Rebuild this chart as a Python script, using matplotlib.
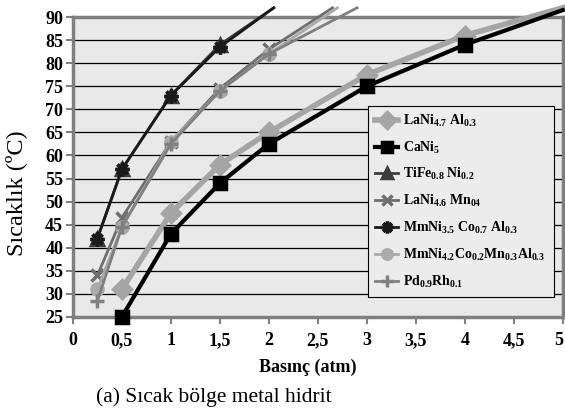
import matplotlib
matplotlib.use("Agg")
import matplotlib.pyplot as plt

plt.rcParams['font.family'] = ['Liberation Serif', 'DejaVu Serif']
plt.rcParams['mathtext.fontset'] = 'custom'
plt.rcParams['mathtext.rm'] = 'Liberation Serif:bold'
plt.rcParams['mathtext.default'] = 'rm'

# series (pressure atm, temperature C)
lani47_x = [0.5, 1, 1.5, 2, 3, 4, 5]
lani47_y = [31, 47.5, 58, 65, 77.5, 86, 92]
cani5_x = [0.5, 1, 1.5, 2, 3, 4, 5]
cani5_y = [25, 43, 54, 62.5, 75, 84, 91.5]
tife_x = [0.25, 0.5, 1, 1.5, 2.05]
tife_y = [42, 57, 73, 84, 92]
lani46_x = [0.25, 0.5, 1, 1.5, 2, 2.65]
lani46_y = [34, 46.5, 63, 74.5, 83, 92]
mmni35_x = [0.25, 0.5, 1, 1.5, 2.05]
mmni35_y = [42, 57, 73, 83.5, 92]
mmni42_x = [0.25, 0.5, 1, 1.5, 2, 2.7]
mmni42_y = [31, 44.5, 63, 74, 82, 92]
pd_x = [0.25, 0.5, 1, 1.5, 2, 2.9]
pd_y = [28.5, 44.5, 62.5, 74, 82, 92]

series = [
    ("LaNi$_{4.7}$ Al$_{0.3}$", lani47_x, lani47_y, '#a5a5a5', 'D', 4, 9),
    ("CaNi$_{5}$", cani5_x, cani5_y, '#000000', 's', 3, 9),
    ("TiFe$_{0.8}$ Ni$_{0.2}$", tife_x, tife_y, '#3c3c3c', '^', 2, 9),
    ("LaNi$_{4.6}$ Mn$_{04}$", lani46_x, lani46_y, '#6e6e6e', 'x', 2, 9),
    ("MmNi$_{3.5}$ Co$_{0.7}$ Al$_{0.3}$", mmni35_x, mmni35_y, '#1a1a1a', (8, 2, 0), 2, 10),
    ("MmNi$_{4.2}$Co$_{0.2}$Mn$_{0.3}$Al$_{0.3}$", mmni42_x, mmni42_y, '#aaaaaa', 'o', 2, 8),
    ("Pd$_{0.9}$Rh$_{0.1}$", pd_x, pd_y, '#808080', '+', 2, 10),
]

fig = plt.figure(figsize=(5.65, 4.16), dpi=100)
ax = fig.add_axes([0.129, 0.238, 0.867, 0.721])
ax.set_facecolor('#e9e9e9')

for label, xs, ys, col, mk, lw, ms in series:
    inside = [i for i, v in enumerate(ys) if v <= 90]
    ax.plot(xs, ys, color=col, lw=lw, marker=mk, ms=ms, mew=2.5,
            markevery=inside, label=label, clip_on=False, zorder=3)

ax.set_xlim(0, 5)
ax.set_ylim(25, 90)
ax.set_xticks([0, 0.5, 1, 1.5, 2, 2.5, 3, 3.5, 4, 4.5, 5])
ax.set_xticklabels(['0', '0,5', '1', '1,5', '2', '2,5', '3', '3,5', '4', '4,5', '5'])
ax.set_yticks(range(25, 91, 5))
ax.yaxis.grid(True, color='black', lw=0.9)
ax.set_axisbelow(True)
for s in ax.spines.values():
    s.set_color('#7f7f7f')
    s.set_linewidth(2.5)
ax.tick_params(direction='out', length=5, width=1.5, color='#7f7f7f',
               labelsize=13, pad=2)
ax.tick_params(axis='x', pad=6)
for t in ax.get_xticklabels() + ax.get_yticklabels():
    t.set_fontweight('bold')
# last label sits on the figure edge, as in the original; keep it inside
ax.get_xticklabels()[-1].set_horizontalalignment('right')

ax.set_xlabel('Basınç (atm)', fontsize=13, fontweight='bold')
ax.xaxis.set_label_coords(0.48, -0.167)
ax.xaxis.label.set_va('center')
ax.set_ylabel('Sıcaklık (ºC)', fontsize=17.5)
ax.yaxis.set_label_coords(-0.116, 0.413)
ax.yaxis.label.set_va('center')

leg = ax.legend(loc='upper left', bbox_to_anchor=(0.602, 0.705, 0.38, 0.0),
                mode='expand', prop={'weight': 'bold', 'size': 10},
                frameon=True, fancybox=False, edgecolor='black',
                facecolor='#ececec', framealpha=1, labelspacing=0.78,
                handlelength=1.7, handletextpad=0.35, borderpad=0.5,
                borderaxespad=0, markerscale=0.85)
leg.get_frame().set_linewidth(0.8)

fig.text(0.379, 0.046, '(a) Sıcak bölge metal hidrit', fontsize=15.5,
         ha='center', va='center')

fig.savefig('out.png', dpi=100)
